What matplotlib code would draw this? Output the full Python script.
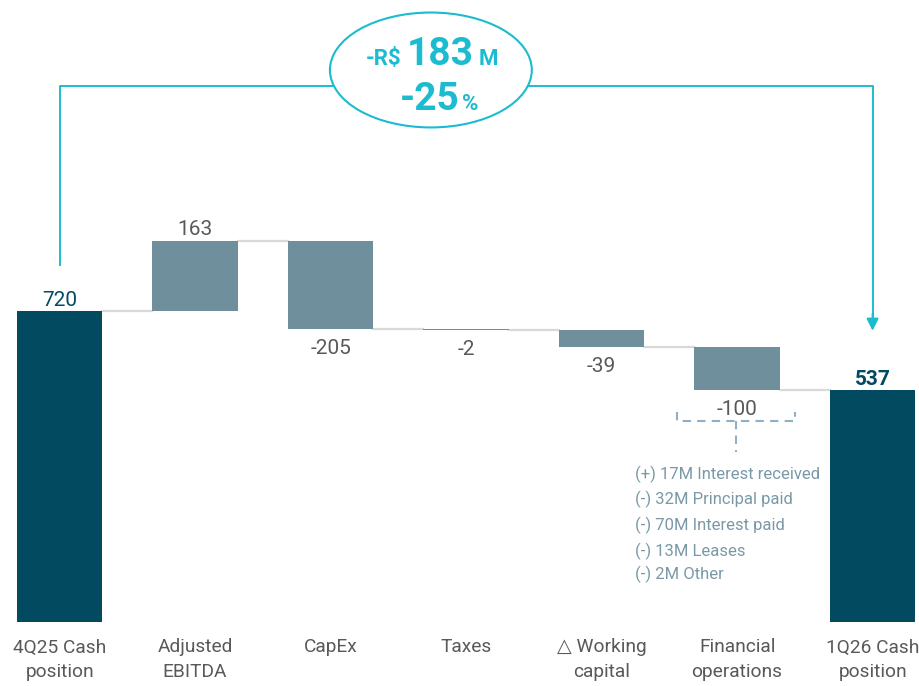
import numpy as np
import matplotlib.pyplot as plt
from matplotlib.patches import Ellipse
from matplotlib import font_manager

# waterfall data (R$ million)
categories = ["4Q25 Cash\nposition", "Adjusted\nEBITDA", "CapEx", "Taxes",
              "\u25b3 Working\ncapital", "Financial\noperations", "1Q26 Cash\nposition"]
values = [720, 163, -205, -2, -39, -100, 537]
is_total = [True, False, False, False, False, False, True]
value_labels = ["720", "163", "-205", "-2", "-39", "-100", "537"]

fin_ops_breakdown = ["(+) 17M Interest received", "(-) 32M Principal paid",
                     "(-) 70M Interest paid", "(-) 13M Leases", "(-) 2M Other"]

change_abs = "183"
change_pct = "-25"

DARK = "#024a60"
STEP = "#6e8f9b"
CYAN = "#1bbccf"
GREY_TXT = "#595959"
NOTE = "#7a99a6"

names = {f.name for f in font_manager.fontManager.ttflist}
base = "Liberation Sans Narrow" if "Liberation Sans Narrow" in names else "Roboto"
plt.rcParams["font.family"] = [base, "DejaVu Sans"]

fig = plt.figure(figsize=(9.2, 6.86), dpi=100)
ax = fig.add_axes([0, 0, 1, 1])
ax.set_xlim(-0.44, 6.35)
ax.set_ylim(-148, 1440)
ax.axis("off")

x = np.arange(len(values))
width = 0.63
bottoms, tops = [], []
running = 0
for v, tot in zip(values, is_total):
    if tot:
        bottoms.append(0)
        tops.append(v)
        running = v
    else:
        bottoms.append(running)
        running += v
        tops.append(running)
bottoms = np.array(bottoms)
tops = np.array(tops)
heights = tops - bottoms
colors = [DARK if t else STEP for t in is_total]

ax.bar(x, heights, bottom=bottoms, width=width, color=colors, zorder=3)

# connector lines
for i in range(len(values) - 1):
    lvl = tops[i]
    ax.plot([x[i] + width / 2, x[i + 1] - width / 2], [lvl, lvl],
            color="#d9d9d9", lw=1.6, zorder=2)

# value labels
for i, (v, lab) in enumerate(zip(values, value_labels)):
    if is_total[i]:
        weight = "bold" if i == len(values) - 1 else "normal"
        ax.annotate(lab, (x[i], tops[i]), xytext=(0, 1), textcoords="offset points",
                    ha="center", va="bottom", fontsize=15, color=DARK, fontweight=weight)
    elif v > 0:
        ax.annotate(lab, (x[i], tops[i]), xytext=(0, 1), textcoords="offset points",
                    ha="center", va="bottom", fontsize=15, color=GREY_TXT)
    else:
        ax.annotate(lab, (x[i], tops[i]), xytext=(0, -7), textcoords="offset points",
                    ha="center", va="top", fontsize=15, color=GREY_TXT)

# category labels
for i, c in enumerate(categories):
    ax.text(x[i], -38, c, ha="center", va="top", fontsize=13.8, color=GREY_TXT,
            linespacing=1.45)

# change arrow across the top
top_y = 1241
ax.plot([x[0], x[0], x[-1], x[-1]], [826, top_y, top_y, 700], color=CYAN, lw=1.4, zorder=4)
ax.annotate("", xy=(x[-1], 668), xytext=(x[-1], 720),
            arrowprops=dict(arrowstyle="-|>", color=CYAN, lw=1.4, mutation_scale=18),
            zorder=4)
ell = Ellipse((2.74, 1278), 1.49, 266, facecolor="white", edgecolor=CYAN, lw=1.5, zorder=5)
ax.add_patch(ell)
ax.text(2.52, 1289, "-R$", ha="right", va="baseline", fontsize=16, color=CYAN,
        fontweight="bold", zorder=6)
ax.text(2.56, 1289, change_abs, ha="left", va="baseline", fontsize=28, color=CYAN,
        fontweight="bold", zorder=6)
ax.text(3.09, 1289, "M", ha="left", va="baseline", fontsize=16, color=CYAN,
        fontweight="bold", zorder=6)
ax.text(2.95, 1185, change_pct, ha="right", va="baseline", fontsize=28, color=CYAN,
        fontweight="bold", zorder=6)
ax.text(2.97, 1185, "%", ha="left", va="baseline", fontsize=16, color=CYAN,
        fontweight="bold", zorder=6)

# bracket under financial operations
bx0, bx1 = 4.56, 5.43
ax.plot([bx0, bx0, bx1, bx1], [486, 465, 465, 486], color="#8fb0c4", lw=1.5,
        ls=(0, (4, 3)), zorder=3)
ax.plot([(bx0 + bx1) / 2] * 2, [465, 394], color="#8fb0c4", lw=1.5,
        ls=(0, (4, 3)), zorder=3)

# breakdown notes
note_y = [343, 283, 223, 163, 110]
for t, yy in zip(fin_ops_breakdown, note_y):
    ax.text(4.25, yy, t, ha="left", va="center", fontsize=12, color=NOTE)

fig.savefig("out.png", dpi=100)
